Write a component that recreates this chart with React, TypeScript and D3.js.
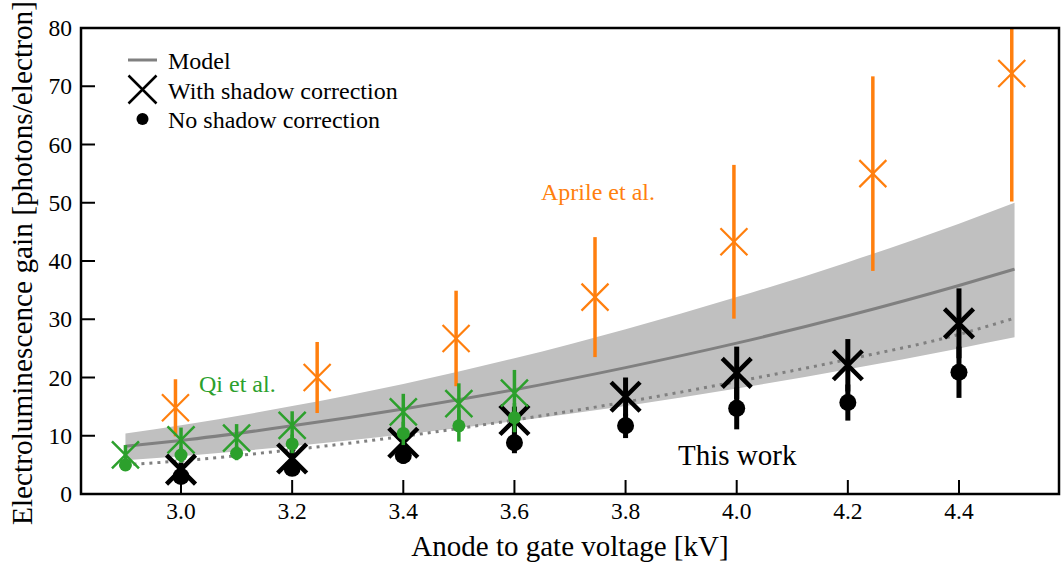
import React from "react";
import * as d3 from "d3";

// ---- Data ----
const voltGrid = [2.9, 3.0, 3.2, 3.4, 3.6, 3.8, 4.0, 4.2, 4.4, 4.5];
const modelMid = [8.2, 9.2, 11.7, 14.6, 17.9, 21.7, 25.9, 30.6, 35.8, 38.6];
const modelHigh = [10.4, 11.8, 15.1, 18.9, 23.3, 28.3, 33.8, 39.8, 46.4, 50.0];
const modelLow = [5.8, 6.5, 8.2, 10.2, 12.5, 15.1, 18.1, 21.4, 25.0, 26.9];
const modelNoShadow = [5.0, 5.7, 7.6, 9.9, 12.7, 15.8, 19.3, 23.1, 27.4, 30.2];

const aprileV = [2.99, 3.245, 3.495, 3.745, 3.995, 4.245, 4.495];
const aprileGain = [14.8, 20.0, 26.7, 33.8, 43.3, 55.0, 72.2];
const aprileErr = [4.9, 6.1, 8.2, 10.3, 13.2, 16.7, 22.0];

const qiV = [2.9, 3.0, 3.1, 3.2, 3.4, 3.5, 3.6];
const qiCorr = [6.7, 9.3, 9.6, 11.8, 14.1, 15.5, 17.3];
const qiCorrErr = [1.7, 2.1, 2.4, 2.4, 3.1, 3.5, 4.0];
const qiRaw = [5.0, 6.7, 7.0, 8.6, 10.4, 11.7, 13.1];
const qiRawErr = [0.9, 1.3, 1.2, 1.6, 2.0, 2.7, 2.5];

const workV = [3.0, 3.2, 3.4, 3.6, 3.8, 4.0, 4.2, 4.4];
const workCorr = [4.2, 6.1, 8.8, 12.7, 16.7, 20.8, 22.1, 29.3];
const workCorrErr = [1.2, 1.5, 2.0, 2.3, 3.3, 4.5, 4.5, 6.0];
const workRaw = [3.0, 4.4, 6.6, 8.8, 11.7, 14.7, 15.7, 20.9];
const workRawErr = [0.9, 1.1, 1.4, 1.8, 2.1, 3.6, 3.1, 4.4];

const xTicks = [3.0, 3.2, 3.4, 3.6, 3.8, 4.0, 4.2, 4.4];
const yTicks = [0, 10, 20, 30, 40, 50, 60, 70, 80];

const legendLabels = ["Model", "With shadow correction", "No shadow correction"];

const W = 1062;
const H = 569;
const L = 81, R = 1059, T = 28, B = 494;
const FONT = "'Liberation Serif', 'DejaVu Serif', serif";
const ORANGE = "#ff7f0e";
const GREEN = "#2ca02c";

const x = d3.scaleLinear().domain([2.82, 4.58]).range([L, R]);
const y = d3.scaleLinear().domain([0, 80]).range([B, T]);

function XMark({ cx, cy, s, color, w }: { cx: number; cy: number; s: number; color: string; w: number }) {
  const p = `M${cx - s},${cy - s}L${cx + s},${cy + s}M${cx - s},${cy + s}L${cx + s},${cy - s}`;
  return <path d={p} stroke={color} strokeWidth={w} fill="none" />;
}

export default function App() {
  const grid = voltGrid.map((v, i) => ({ v, mid: modelMid[i], hi: modelHigh[i], lo: modelLow[i], ns: modelNoShadow[i] }));
  const area = d3
    .area<any>()
    .x((d) => x(d.v))
    .y0((d) => y(d.lo))
    .y1((d) => y(d.hi))
    .curve(d3.curveMonotoneX);
  const lineMid = d3.line<any>().x((d) => x(d.v)).y((d) => y(d.mid)).curve(d3.curveMonotoneX);
  const lineNs = d3.line<any>().x((d) => x(d.v)).y((d) => y(d.ns)).curve(d3.curveMonotoneX);

  return (
    <div style={{ position: "absolute", left: 0, top: 0 }}>
      <svg width={W} height={H} style={{ display: "block", background: "#fff" }} fontFamily={FONT}>
        <defs>
          <clipPath id="plotClip">
            <rect x={L} y={T} width={R - L} height={B - T} />
          </clipPath>
        </defs>
        <g clipPath="url(#plotClip)">
          <path d={area(grid) || ""} fill="#c0c0c0" stroke="none" />
          <path d={lineMid(grid) || ""} fill="none" stroke="#808080" strokeWidth={3} />
          <path d={lineNs(grid) || ""} fill="none" stroke="#808080" strokeWidth={3} strokeDasharray="3,5" />

          {/* This work */}
          {workV.map((v, i) => (
            <g key={"w" + i}>
              <line x1={x(v)} x2={x(v)} y1={y(workCorr[i] - workCorrErr[i])} y2={y(workCorr[i] + workCorrErr[i])} stroke="#000" strokeWidth={5} />
              <line x1={x(v)} x2={x(v)} y1={y(workRaw[i] - workRawErr[i])} y2={y(workRaw[i] + workRawErr[i])} stroke="#000" strokeWidth={5} />
              <XMark cx={x(v)} cy={y(workCorr[i])} s={14.5} color="#000" w={4.5} />
              <circle cx={x(v)} cy={y(workRaw[i])} r={8.5} fill="#000" />
            </g>
          ))}

          {/* Aprile */}
          {aprileV.map((v, i) => (
            <g key={"a" + i}>
              <line x1={x(v)} x2={x(v)} y1={y(aprileGain[i] - aprileErr[i])} y2={y(aprileGain[i] + aprileErr[i])} stroke={ORANGE} strokeWidth={3.5} />
              <XMark cx={x(v)} cy={y(aprileGain[i])} s={13.5} color={ORANGE} w={2.2} />
            </g>
          ))}

          {/* Qi */}
          {qiV.map((v, i) => (
            <g key={"q" + i}>
              <line x1={x(v)} x2={x(v)} y1={y(qiCorr[i] - qiCorrErr[i])} y2={y(qiCorr[i] + qiCorrErr[i])} stroke={GREEN} strokeWidth={3.5} />
              <line x1={x(v)} x2={x(v)} y1={y(qiRaw[i] - qiRawErr[i])} y2={y(qiRaw[i] + qiRawErr[i])} stroke={GREEN} strokeWidth={3.5} />
              <XMark cx={x(v)} cy={y(qiCorr[i])} s={13.5} color={GREEN} w={2.5} />
              <circle cx={x(v)} cy={y(qiRaw[i])} r={6.5} fill={GREEN} />
            </g>
          ))}
        </g>

        {/* Annotations */}
        <text x={541} y={200} fontSize={24} fill={ORANGE}>Aprile et al.</text>
        <text x={199} y={392} fontSize={24} fill={GREEN}>Qi et al.</text>
        <text x={678} y={465} fontSize={29} fill="#000">This work</text>

        {/* Legend */}
        <g>
          <line x1={128} x2={157} y1={60} y2={60} stroke="#808080" strokeWidth={3} />
          <XMark cx={142.5} cy={89.5} s={14} color="#000" w={2.5} />
          <circle cx={142.5} cy={119} r={6} fill="#000" />
          {legendLabels.map((t, i) => (
            <text key={t} x={168} y={69 + i * 29.5} fontSize={24} fill="#000">{t}</text>
          ))}
        </g>

        {/* Ticks */}
        {xTicks.map((t) => (
          <g key={"xt" + t}>
            <line x1={x(t)} x2={x(t)} y1={B} y2={B - 14} stroke="#000" strokeWidth={2} />
            <text x={x(t)} y={519} fontSize={23.5} textAnchor="middle">{t.toFixed(1)}</text>
          </g>
        ))}
        {yTicks.map((t) => (
          <g key={"yt" + t}>
            <line x1={L} x2={L + 14} y1={y(t)} y2={y(t)} stroke="#000" strokeWidth={2} />
            <text x={72} y={y(t) + 8} fontSize={23.5} textAnchor="end">{t}</text>
          </g>
        ))}

        {/* Frame */}
        <rect x={L} y={T} width={R - L} height={B - T} fill="none" stroke="#000" strokeWidth={2.5} />

        {/* Axis labels */}
        <text x={(L + R) / 2} y={556} fontSize={29} textAnchor="middle">Anode to gate voltage [kV]</text>
        <text transform={`translate(31.5,263) rotate(-90)`} fontSize={29.3} textAnchor="middle">
          Electroluminescence gain [photons/electron]
        </text>
      </svg>
    </div>
  );
}
